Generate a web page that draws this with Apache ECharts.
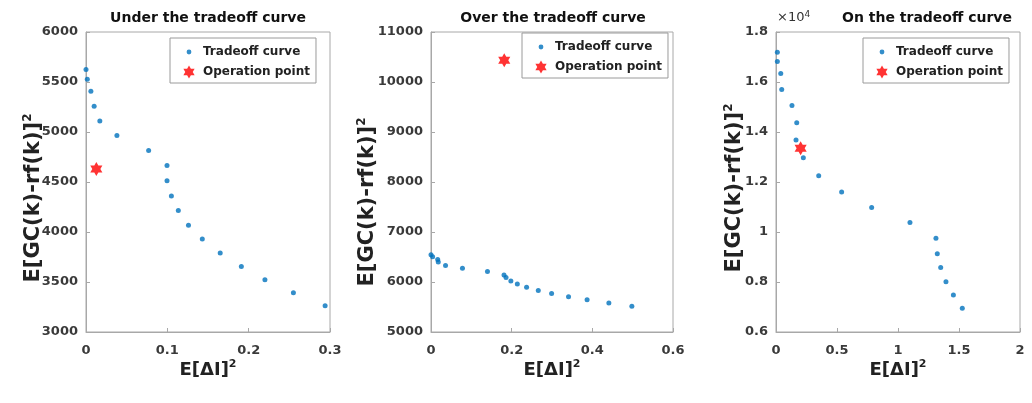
<!DOCTYPE html>
<html>
<head>
<meta charset="utf-8">
<script src="https://cdn.jsdelivr.net/npm/echarts@6/dist/echarts.min.js"></script>
<style>
html, body { margin: 0; padding: 0; background: #fff; }
#main { width: 1032px; height: 403px; }
</style>
</head>
<body>
<div id="main"></div>
<script>
// panel 1 - under the tradeoff curve
var underX = [0, 0.0016, 0.006, 0.010, 0.017, 0.038, 0.077, 0.0996, 0.0996, 0.105, 0.1135, 0.126, 0.143, 0.165, 0.191, 0.220, 0.255, 0.294];
var underY = [5624, 5528, 5408, 5258, 5109, 4966, 4816, 4666, 4513, 4360, 4214, 4068, 3931, 3789, 3656, 3523, 3393, 3263];
var underOp = [0.0127, 4630];

// panel 2 - over the tradeoff curve
var overX = [0, 0.004, 0.0166, 0.018, 0.036, 0.078, 0.140, 0.181, 0.186, 0.198, 0.214, 0.237, 0.266, 0.299, 0.341, 0.387, 0.441, 0.498];
var overY = [6545, 6505, 6448, 6400, 6328, 6274, 6208, 6140, 6088, 6020, 5960, 5894, 5828, 5768, 5707, 5647, 5580, 5513];
var overOp = [0.1816, 10433];

// panel 3 - on the tradeoff curve
var onX = [0.011, 0.011, 0.039, 0.047, 0.131, 0.170, 0.164, 0.224, 0.350, 0.538, 0.784, 1.098, 1.311, 1.322, 1.350, 1.393, 1.454, 1.527];
var onY = [17190, 16820, 16340, 15700, 15060, 14370, 13680, 12970, 12250, 11600, 10980, 10380, 9750, 9130, 8580, 8010, 7480, 6950];
var onOp = [0.202, 13350];

var titles = ['Under the tradeoff curve', 'Over the tradeoff curve', 'On the tradeoff curve'];
var xTicks = [[0, 0.3, 0.1], [0, 0.6, 0.2], [0, 2, 0.5]];
var yTicks = [[3000, 6000, 500], [5000, 11000, 1000], [6000, 18000, 2000]];

var FONT = 'DejaVu Sans';
var blue = '#0072BD';
var red = '#FF0000';
var axisGray = '#a8a8a8';

var hexagram = 'path://M0,-100L28.9,-50L86.6,-50L57.7,0L86.6,50L28.9,50L0,100L-28.9,50L-86.6,50L-57.7,0L-86.6,-50L-28.9,-50Z';
// legend icons drawn inside an 18x14 box
var dotIcon = 'path://M0,0M18,14M6.6,7A2.4,2.4 0 1 1 11.4,7A2.4,2.4 0 1 1 6.6,7Z';
var starIcon = 'path://M0,0M18,14M9,0.5L10.88,3.75L14.63,3.75L12.75,7L14.63,10.25L10.88,10.25L9,13.5L7.12,10.25L3.37,10.25L5.25,7L3.37,3.75L7.12,3.75Z';

function pairs(xs, ys) {
    return xs.map(function (x, i) { return [x, ys[i]]; });
}

var grids = [
    { left: 86, top: 32, width: 244, height: 300 },
    { left: 431, top: 32, width: 242, height: 300 },
    { left: 776, top: 32, width: 244, height: 300 }
];
var titleX = [208, 553, 927];
var yNameGap = [40, 51, 29];
var yNameShift = [32, 40, 12];
var legendPos = [[170, 38], [522, 33], [863, 38]];

var option = {
    animation: false,
    backgroundColor: '#fff',
    title: titles.map(function (t, i) {
        return {
            text: t, left: titleX[i], top: 11, textAlign: 'center', padding: 0,
            textStyle: { fontFamily: FONT, fontSize: 14, fontWeight: 'bold', color: '#111' }
        };
    }),
    grid: grids.map(function (g) {
        return {
            left: g.left, top: g.top, width: g.width, height: g.height,
            show: true, borderColor: axisGray, borderWidth: 1, backgroundColor: '#fff',
            containLabel: false, outerBoundsMode: 'none'
        };
    }),
    xAxis: xTicks.map(function (t, i) {
        return {
            type: 'value', gridIndex: i, min: t[0], max: t[1], interval: t[2],
            name: '{a|E[ΔI]}{s|2}', nameLocation: 'middle', nameGap: 27, nameMoveOverlap: false,
            nameTextStyle: {
                verticalAlign: 'top',
                rich: {
                    a: { fontFamily: FONT, fontSize: 18, fontWeight: 'bold', color: '#222', lineHeight: 22 },
                    s: { fontFamily: FONT, fontSize: 11, fontWeight: 'bold', color: '#222', verticalAlign: 'top', lineHeight: 12 }
                }
            },
            splitLine: { show: false },
            axisLine: { show: true, lineStyle: { color: axisGray } },
            axisTick: { show: true, inside: true, length: 4, lineStyle: { color: axisGray } },
            axisLabel: { margin: 12, fontFamily: FONT, fontSize: 13, fontWeight: 'bold', color: '#3a3a3a' }
        };
    }),
    yAxis: yTicks.map(function (t, i) {
        return {
            type: 'value', gridIndex: i, min: t[0], max: t[1], interval: t[2],
            name: '{a|E[GC(k)-rf(k)]}{s|2}', nameLocation: 'middle', nameGap: yNameGap[i], nameRotate: 90,
            nameMoveOverlap: false,
            nameTextStyle: {
                padding: [0, yNameShift[i], 0, 0],
                rich: {
                    a: { fontFamily: FONT, fontSize: 21, fontWeight: 'bold', color: '#222', lineHeight: 24 },
                    s: { fontFamily: FONT, fontSize: 12, fontWeight: 'bold', color: '#222', verticalAlign: 'top', lineHeight: 12 }
                }
            },
            splitLine: { show: false },
            axisLine: { show: true, lineStyle: { color: axisGray } },
            axisTick: { show: true, inside: true, length: 4, lineStyle: { color: axisGray } },
            axisLabel: {
                margin: 8, fontFamily: FONT, fontSize: 13, fontWeight: 'bold', color: '#3a3a3a',
                formatter: i === 2
                    ? function (v) { return String(Math.round(v / 1000) / 10); }
                    : function (v) { return String(v); }
            }
        };
    }),
    legend: legendPos.map(function (p) {
        return {
            left: p[0], top: p[1], orient: 'vertical',
            padding: [7, 6, 4, 10], itemGap: 6, itemWidth: 18, itemHeight: 14,
            backgroundColor: '#fff', borderColor: '#9a9a9a', borderWidth: 1, borderRadius: 0,
            selectedMode: false,
            textStyle: { fontFamily: FONT, fontSize: 12, fontWeight: 'bold', color: '#222' },
            data: [
                { name: 'Tradeoff curve', icon: dotIcon },
                { name: 'Operation point', icon: starIcon }
            ]
        };
    }),
    graphic: [{
        type: 'text', left: 777, top: 10,
        style: {
            text: '{a|×10}{b|4}',
            rich: {
                a: { fontFamily: FONT, fontSize: 13, fill: '#333', lineHeight: 16 },
                b: { fontFamily: FONT, fontSize: 9, fill: '#333', verticalAlign: 'top', lineHeight: 10 }
            }
        }
    }],
    series: []
};

var curves = [pairs(underX, underY), pairs(overX, overY), pairs(onX, onY)];
var ops = [underOp, overOp, onOp];
for (var i = 0; i < 3; i++) {
    option.series.push({
        name: 'Tradeoff curve', type: 'scatter', xAxisIndex: i, yAxisIndex: i,
        symbol: 'circle', symbolSize: 5, itemStyle: { color: blue },
        data: curves[i]
    });
}
for (var j = 0; j < 3; j++) {
    option.series.push({
        name: 'Operation point', type: 'scatter', xAxisIndex: j, yAxisIndex: j,
        symbol: hexagram, symbolSize: 14, symbolKeepAspect: true, itemStyle: { color: red },
        z: 3, data: [ops[j]]
    });
}

var chart = echarts.init(document.getElementById('main'));
chart.setOption(option);
</script>
</body>
</html>
